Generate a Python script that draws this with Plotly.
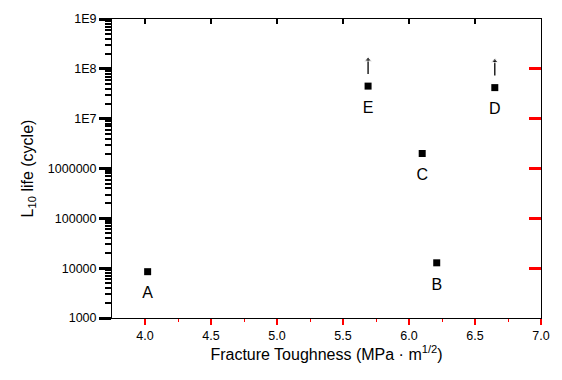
import plotly.graph_objects as go

# Data
labels = ["A", "B", "C", "D", "E"]
toughness = [4.02, 6.21, 6.10, 6.65, 5.69]
l10_life = [8500, 12800, 2000000, 42000000, 45000000]
runout = [False, False, False, True, True]  # arrows = still running

ytick_vals = [1e3, 1e4, 1e5, 1e6, 1e7, 1e8, 1e9]
ytick_text = ["1000", "10000", "100000", "1000000", "1E7", "1E8", "1E9"]
xtick_vals = [4.0, 4.5, 5.0, 5.5, 6.0, 6.5, 7.0]
xtick_text = ["4.0", "4.5", "5.0", "5.5", "6.0", "6.5", "7.0"]
xminor_vals = [4.25, 4.75, 5.25, 5.75, 6.25, 6.75]

FONT = "Liberation Sans, Arial, sans-serif"

fig = go.Figure()
fig.add_trace(go.Scatter(
    x=toughness, y=l10_life, mode="markers",
    marker=dict(symbol="square", size=7, color="black")))
fig.add_trace(go.Scatter(
    x=toughness, y=l10_life, mode="markers+text", text=labels,
    textposition="bottom center",
    textfont=dict(size=16, family=FONT, color="black"),
    marker=dict(size=22, opacity=0)))
for xv, yv, ro in zip(toughness, l10_life, runout):
    if ro:
        fig.add_trace(go.Scatter(
            x=[xv, xv], y=[yv * 1.75, yv * 3.4], mode="lines+markers",
            line=dict(color="black", width=1.3),
            marker=dict(symbol="triangle-up", size=[0, 6], color="black")))
fig.add_trace(go.Scatter(x=toughness, y=l10_life, mode="markers",
                         marker=dict(opacity=0), xaxis="x2", yaxis="y2"))

xr = [3.75, 7.0]
yr = [3, 9]

fig.update_layout(
    width=562, height=380,
    margin=dict(l=112, r=15, t=14, b=62),
    plot_bgcolor="white",
    showlegend=False,
    font=dict(family=FONT, size=12.5, color="black"),
    xaxis=dict(range=xr, tickmode="array", tickvals=xtick_vals,
               ticktext=xtick_text, ticks="outside", ticklen=6,
               tickcolor="red", tickwidth=1.5, showline=True,
               linecolor="black", showgrid=False, zeroline=False,
               title=dict(text="Fracture Toughness (MPa · m<sup>1/2</sup>)",
                          font=dict(size=16), standoff=6),
               minor=dict(ticks="outside", ticklen=3, tickvals=xminor_vals,
                          tickcolor="red", tickwidth=1.2)),
    yaxis=dict(type="log", range=yr, tickmode="array", tickvals=ytick_vals,
               ticktext=ytick_text, ticks="outside", ticklen=12,
               tickcolor="black", tickwidth=3, showline=True,
               linecolor="black", showgrid=False, zeroline=False,
               title=dict(text="L<sub>10</sub> life (cycle)",
                          font=dict(size=16), standoff=10),
               minor=dict(ticks="outside", ticklen=6, dtick="D1",
                          tickcolor="black", tickwidth=2)),
    xaxis2=dict(range=xr, overlaying="x", side="top", anchor="y",
                tickmode="array", tickvals=xtick_vals, ticks="inside",
                ticklen=5, tickcolor="black", tickwidth=1.5, showline=True,
                linecolor="black", showgrid=False, zeroline=False,
                showticklabels=False),
    yaxis2=dict(type="log", range=yr, overlaying="y", side="right",
                anchor="x", tickmode="array", tickvals=ytick_vals,
                ticks="inside", ticklen=12, tickcolor="red", tickwidth=3,
                showline=True, linecolor="black", showgrid=False,
                zeroline=False, showticklabels=False),
)

fig.write_html("out.html")
